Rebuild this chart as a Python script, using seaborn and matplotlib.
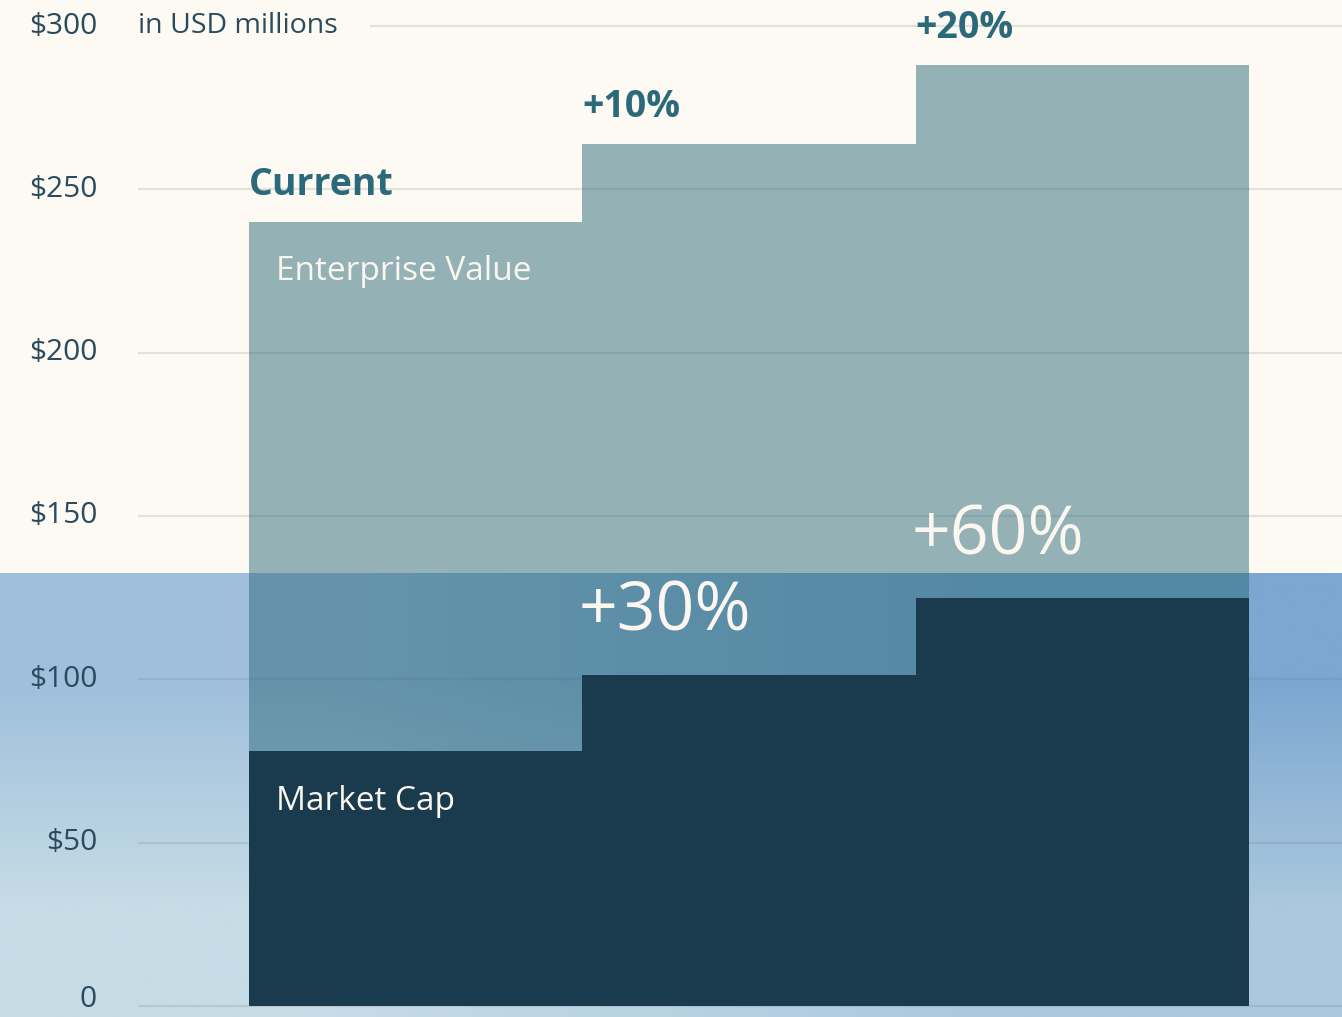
import matplotlib
matplotlib.use("Agg")
import matplotlib.pyplot as plt
import seaborn as sns
import numpy as np
import pandas as pd

sns.set_style("white")
plt.rcParams["font.family"] = ["Open Sans", "DejaVu Sans"]

# values in USD millions
scenarios = ["Current", "+10%", "+20%"]
enterprise_value = [240, 264, 288]
market_cap = [78, 101.4, 124.8]
ev_labels = ["Current", "+10%", "+20%"]
mc_labels = ["", "+30%", "+60%"]
y_ticks = [0, 50, 100, 150, 200, 250, 300]
y_tick_labels = ["0", "$50", "$100", "$150", "$200", "$250", "$300"]
unit_note = "in USD millions"
blue_band_top = 132.5

CREAM = "#fdf9f3"
EV_COLOR = "#2c6a7a"
MC_COLOR = "#1a3a4e"
TEAL_TEXT = "#2b6a7b"
WHITE_TEXT = "#fbf7f0"
AXIS_TEXT = "#2a4b5e"

XMIN, XMAX = -1.247, 2.779
YMIN, YMAX = -3.37, 307.96

df = pd.DataFrame({"scenario": scenarios, "ev": enterprise_value, "mc": market_cap})

fig = plt.figure(figsize=(13.42, 10.17), dpi=100, facecolor=CREAM)
ax = fig.add_axes([0, 0, 1, 1])
ax.set_facecolor(CREAM)

# blue gradient band behind the lower part of the chart
corners = np.array([[[0x9f, 0xbf, 0xdc], [0x7c, 0xa7, 0xd0]],
                    [[0xc6, 0xdc, 0xe6], [0xaa, 0xc8, 0xde]]]) / 255.0
ax.imshow(corners, extent=[XMIN, XMAX, YMIN, blue_band_top], aspect="auto",
          interpolation="bilinear", zorder=0.5)

# gridlines
for y in y_ticks:
    start = -0.137 if y == 300 else -0.833
    ax.hlines(y, start, XMAX, color=(0.45, 0.45, 0.42, 0.18), lw=1.6, zorder=1.5)

sns.barplot(data=df, x="scenario", y="ev", width=1, color=EV_COLOR, alpha=0.5,
            saturation=1, errorbar=None, linewidth=0, zorder=2, ax=ax)
sns.barplot(data=df, x="scenario", y="mc", width=1, color=MC_COLOR,
            saturation=1, errorbar=None, linewidth=0, zorder=3, ax=ax)

for i, (v, lab) in enumerate(zip(enterprise_value, ev_labels)):
    ax.annotate(lab, (i - 0.5, v), xytext=(0, 18), textcoords="offset pixels",
                ha="left", va="bottom", fontsize=27, fontweight="bold",
                color=TEAL_TEXT, zorder=4)

for i, (v, lab) in enumerate(zip(market_cap, mc_labels)):
    if lab:
        ax.annotate(lab, (i - 0.5, v), xytext=(-4, 28), textcoords="offset pixels",
                    ha="left", va="bottom", fontsize=49, fontweight="medium",
                    color=WHITE_TEXT, zorder=4)

ax.annotate("Enterprise Value", (-0.5, enterprise_value[0]), xytext=(27, -49),
            textcoords="offset pixels", ha="left", va="center", fontsize=24,
            color=WHITE_TEXT, zorder=4)
ax.annotate("Market Cap", (-0.5, market_cap[0]), xytext=(27, -50),
            textcoords="offset pixels", ha="left", va="center", fontsize=24,
            color=WHITE_TEXT, zorder=4)

# y tick labels drawn as text to the left of the gridlines
for y, lab in zip(y_ticks, y_tick_labels):
    ax.text(-0.956, max(y, 2), lab, ha="right", va="center", fontsize=21.5,
            color=AXIS_TEXT, zorder=4)
ax.text(-0.833, 300, unit_note, ha="left", va="center", fontsize=20.5, color=AXIS_TEXT, zorder=4)

ax.set_xlim(XMIN, XMAX)
ax.set_ylim(YMIN, YMAX)
ax.set_xticks([])
ax.set_yticks([])
ax.set_xlabel("")
ax.set_ylabel("")
sns.despine(ax=ax, left=True, bottom=True)

plt.savefig("out.png", dpi=100, facecolor=CREAM)
